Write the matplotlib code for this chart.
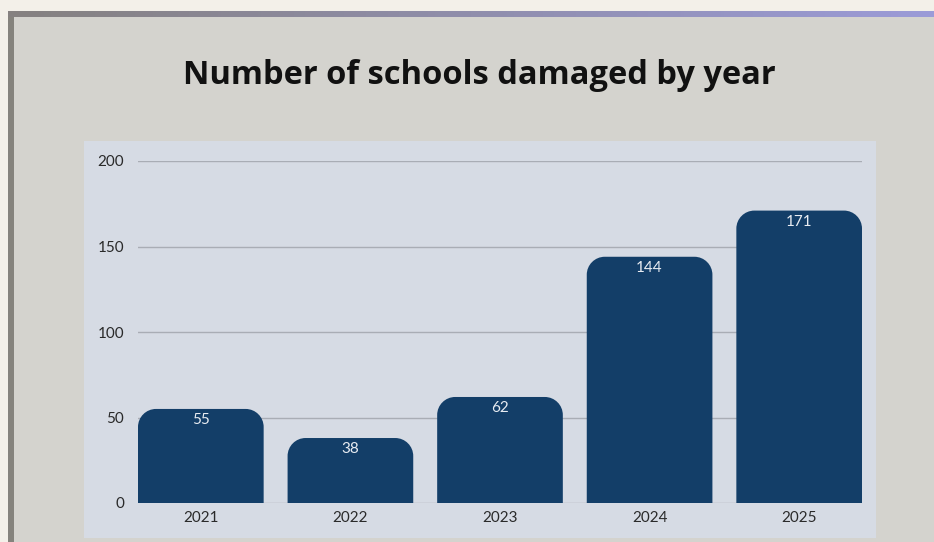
import numpy as np
import matplotlib.pyplot as plt
from matplotlib.patches import Rectangle, PathPatch
from matplotlib.path import Path

# data
years = ["2021", "2022", "2023", "2024", "2025"]
schools = [55, 38, 62, 144, 171]
y_ticks = [0, 50, 100, 150, 200]

W, H = 934, 542
BAR_COLOR = "#133e68"

fig = plt.figure(figsize=(W / 100, H / 100), dpi=100)
fig.patch.set_facecolor("#f3f0e9")


def px_rect(x0, y0, x1, y1, color, z=-5):
    # rectangle given in pixel coords (origin top-left)
    fig.patches.append(Rectangle((x0 / W, 1 - y1 / H), (x1 - x0) / W, (y1 - y0) / H,
                                 transform=fig.transFigure, facecolor=color,
                                 edgecolor="none", zorder=z))


def top_rounded_bar(left, width, height, rx, ry):
    k = 0.5523
    right = left + width
    verts = [
        (left, 0), (left, height - ry),
        (left, height - ry + k * ry), (left + rx - k * rx, height), (left + rx, height),
        (right - rx, height),
        (right - rx + k * rx, height), (right, height - ry + k * ry), (right, height - ry),
        (right, 0), (left, 0),
    ]
    codes = [Path.MOVETO, Path.LINETO,
             Path.CURVE4, Path.CURVE4, Path.CURVE4,
             Path.LINETO,
             Path.CURVE4, Path.CURVE4, Path.CURVE4,
             Path.LINETO, Path.CLOSEPOLY]
    return Path(verts, codes)


# frame: left border, main panel, plot panel
px_rect(8, 11, 14, H, "#85837d")
px_rect(14, 17, W, H, "#d4d3ce")
px_rect(84, 141, 876, 538, "#d6dbe4")

# top gradient strip
gax = fig.add_axes([8 / W, 1 - 17 / H, (W - 8) / W, 6 / H])
c0 = np.array([0x85, 0x81, 0x80]) / 255
c1 = np.array([0x9b, 0x9b, 0xd8]) / 255
t = np.linspace(0, 1, 256)[None, :, None]
gax.imshow(c0 + (c1 - c0) * t, aspect="auto", extent=[0, 1, 0, 1])
gax.set_axis_off()

fig.text(479 / W, 1 - 75 / H, "Number of schools damaged by year",
         ha="center", va="center", fontsize=23.5, fontweight="bold",
         family="Open Sans", color="#111111")

# main axes
ax = fig.add_axes([138 / W, 1 - 503 / H, (862 - 138) / W, (503 - 161) / H])
ax.set_facecolor("none")
width = 0.84
ax.set_xlim(-width / 2, len(years) - 1 + width / 2)
ax.set_ylim(0, 200)

for yv in y_ticks:
    ax.axhline(yv, color="#a9adb5", lw=1, zorder=0)

# rounded-top bars (radius ~18px)
x = np.arange(len(years))
rx = 18 / 149.5
ry = 18 / 1.71
for xi, v in zip(x, schools):
    ax.add_patch(PathPatch(top_rounded_bar(xi - width / 2, width, v, rx, ry),
                           facecolor=BAR_COLOR, edgecolor="none", zorder=2))
    ax.text(xi, v - 6.5, str(v), ha="center", va="center", fontsize=11,
            family="Lato", color="#e8ecf2", zorder=3)

ax.set_xticks(x)
ax.set_xticklabels(years)
ax.set_yticks(y_ticks)
ax.tick_params(axis="both", length=0, labelsize=11, labelcolor="#2a2a2a")
ax.tick_params(axis="y", pad=10)
ax.tick_params(axis="x", pad=6)
for lab in ax.get_xticklabels() + ax.get_yticklabels():
    lab.set_family("Lato")
for s in ax.spines.values():
    s.set_visible(False)

fig.savefig("out.png", dpi=100, facecolor=fig.get_facecolor())
